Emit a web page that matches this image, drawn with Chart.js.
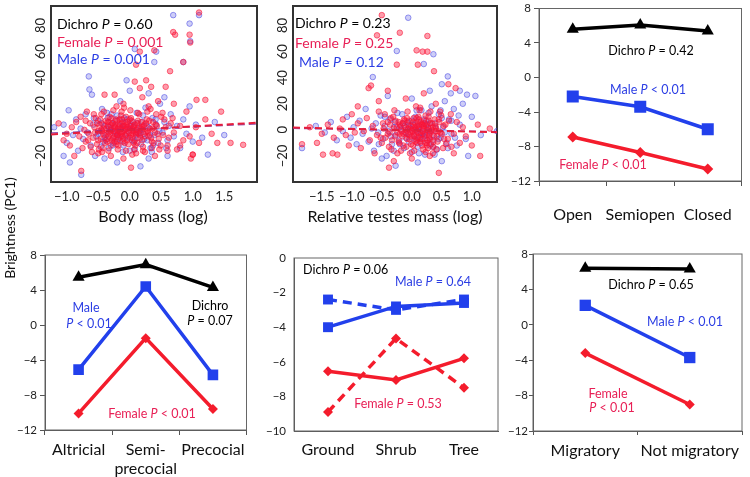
<!DOCTYPE html>
<html>
<head>
<meta charset="utf-8">
<script src="https://cdn.jsdelivr.net/npm/chart.js@4.4.1/dist/chart.umd.min.js"></script>
<style>
body { margin: 0; background: #fff; }
#wrap { position: relative; width: 750px; height: 477px; overflow: hidden; }
#wrap canvas { position: absolute; left: 0; top: 0; }
#ytitle { position: absolute; left: -90.5px; top: 219px; width: 200px; height: 18px; line-height: 18px;
  text-align: center; font: 14px Lato, sans-serif; color: #111; transform: rotate(-90deg); }
</style>
</head>
<body>
<div id="wrap">
  <canvas id="c1" width="750" height="477"></canvas>
  <canvas id="c2" width="750" height="477"></canvas>
  <canvas id="c3" width="750" height="477"></canvas>
  <canvas id="c4" width="750" height="477"></canvas>
  <canvas id="c5" width="750" height="477"></canvas>
  <canvas id="c6" width="750" height="477"></canvas>
  <div id="ytitle">Brightness (PC1)</div>
</div>
<script>
// ---- data ----
// body mass (log) vs brightness
const bodyFemale = [[-1.13,5],[-1.05,-8],[-1.0,-3],[-0.95,-12],[-0.92,2],[-0.88,-20],[-0.85,6],[-0.8,-5],[-0.78,10],[-0.75,-14],[-0.72,0],[-0.7,-9],[-0.68,14],[-0.65,-3],[-0.63,5],[-0.6,-17],[-0.58,-6],[-0.56,2],[-0.54,9],[-0.52,-11],[-0.5,-1],[-0.48,4],[-0.46,-7],[-0.45,12],[-0.43,-14],[-0.41,1],[-0.4,-4],[-0.38,7],[-0.36,-9],[-0.35,3],[-0.33,-2],[-0.32,10],[-0.3,-12],[-0.29,0],[-0.27,5],[-0.26,-6],[-0.24,2],[-0.23,-3],[-0.22,8],[-0.2,-9],[-0.19,1],[-0.18,-1],[-0.16,4],[-0.15,-5],[-0.14,11],[-0.12,-2],[-0.11,3],[-0.1,-7],[-0.08,0],[-0.07,6],[-0.05,-3],[-0.04,2],[-0.02,-11],[0.0,1],[0.02,-4],[0.03,7],[0.05,-1],[0.07,3],[0.08,-8],[0.1,0],[0.12,5],[0.14,-3],[0.15,12],[0.17,-6],[0.19,2],[0.21,-13],[0.23,4],[0.25,-2],[0.27,8],[0.3,-5],[0.32,1],[0.35,-9],[0.37,6],[0.4,-2],[0.43,3],[0.46,-7],[0.5,10],[0.53,-4],[0.57,2],[0.6,-12],[0.65,5],[0.7,-2],[0.75,-15],[0.8,3],[0.85,-8],[0.9,14],[0.95,-5],[1.0,-19],[1.05,2],[1.1,-10],[1.2,8],[1.3,-3],[1.39,-10],[1.6,-10],[1.8,-11.5],[1.45,14],
  [1.1,90],[0.69,75],[0.72,73],[0.95,73],[0.96,67],[0.39,61],[0.85,52],[0.64,45],[0.16,60],[0.1,50],[0.08,37],[0.26,38],[0.34,33],[0.16,32],[-0.24,27],[-0.4,27],[0.57,33],[1.2,23],[1.06,23],[-0.77,-31.5],[0.02,-29],[1.0,-19],[0.97,-22],[0.2,25],[0.45,22],[-0.1,20],[0.3,18],[0.7,20],[-0.3,-20],[-0.1,-22],[0.1,-18],[0.4,-20],[0.6,-16],[-0.5,-18],[0.8,-12],
  [-0.3,-1],[-0.25,3],[-0.2,-4],[-0.15,1],[-0.1,-1],[-0.05,4],[0.0,-6],[0.05,2],[-0.35,6],[-0.42,-3],[0.1,-3],[0.2,0],[-0.28,-8],[-0.12,8],[0.18,6],[-0.45,0],[0.28,-1],[0.06,-10],[-0.18,-12],[-0.06,10],
  [-0.55,-2],[-0.52,5],[-0.5,-8],[-0.47,8],[-0.44,-1],[-0.42,4],[-0.39,-10],[-0.37,1],[-0.34,-5],[-0.33,6],[-0.31,-3],[-0.29,9],[-0.27,-7],[-0.25,-1],[-0.23,4],[-0.21,-11],[-0.2,7],[-0.18,2],[-0.17,-6],[-0.15,-2],[-0.13,5],[-0.11,-9],[-0.09,3],[-0.07,-4],[-0.06,1],[-0.04,-8],[-0.03,6],[-0.01,-2],[0.01,3],[0.02,9],[0.04,-6],[0.06,0],[0.08,4],[0.09,-12],[0.11,-2],[0.13,7],[0.16,-4],[0.18,1],[0.2,-8],[0.22,3],[0.24,-5],[0.26,5],[0.29,-2],[0.31,7],[0.34,-6],[0.36,1],[0.38,-10],[0.41,4],[0.44,-3],[-0.36,-7],[-0.24,-9],[-0.12,-5],[0.0,8],[0.12,-10],[-0.3,4],[-0.08,-10],[0.14,2],[-0.2,-4],[0.05,-3],[-0.16,8],
  [-0.62,-13],[-0.57,12],[-0.49,-15],[-0.41,14],[-0.34,-16],[-0.26,15],[-0.19,-15],[-0.13,14],[-0.06,-16],[0.01,15],[0.07,-15],[0.13,13],[0.21,-16],[0.28,14],[0.35,-14],[0.42,12],[0.49,-12],[0.55,8],[-0.7,7],[-0.66,-8],[0.47,-15],[0.52,13],[-0.44,-17],[0.33,16],[-0.21,18],[0.04,-19],[0.24,-17],[-0.09,17],[0.62,-6],[0.68,9]];
const bodyMale = [[-1.2,2],[-1.05,4],[-1.0,-10],[-0.97,15],[-0.9,-4],[-0.85,8],[-0.82,-16],[-0.78,1],[-0.74,-7],[-0.7,12],[-0.67,-2],[-0.64,31],[-0.6,27],[-0.62,-12],[-0.58,4],[-0.55,-20],[-0.53,-5],[-0.5,7],[-0.47,-1],[-0.44,16],[-0.42,-9],[-0.4,3],[-0.37,-4],[-0.35,9],[-0.33,-14],[-0.31,0],[-0.28,5],[-0.26,-10],[-0.24,2],[-0.22,-2],[-0.2,11],[-0.18,-7],[-0.16,3],[-0.14,-3],[-0.12,6],[-0.1,-12],[-0.08,1],[-0.06,-5],[-0.04,8],[-0.02,-1],[0.0,-16],[0.02,4],[0.04,-8],[0.06,2],[0.09,-2],[0.11,13],[0.13,-6],[0.16,1],[0.18,-11],[0.2,6],[0.22,-3],[0.25,17],[0.28,-8],[0.3,2],[0.33,-14],[0.36,9],[0.39,-4],[0.42,4],[0.45,-10],[0.48,20],[0.52,-2],[0.55,6],[0.6,-8],[0.65,12],[0.7,-5],[0.75,3],[0.8,-14],[0.85,8],[0.9,-3],[0.95,18],[1.0,-9],[1.05,4],[1.15,-6],[1.24,-19],[1.35,6],[1.5,-4],
  [1.1,88],[0.69,88],[0.95,81.5],[0.96,68],[0.42,60],[0.39,52],[0.85,52],[0.08,62],[-0.65,41],[-0.05,38],[-0.77,-34.5],[0.17,-28],[-0.2,-25],[0.3,-22],[-0.4,-22],[0.6,-20],[0.0,30],[0.3,28],[-0.15,22],[0.55,25],[-1.05,-20],[-0.95,-25],
  [-0.3,1],[-0.2,-1],[-0.1,3],[0.0,0],[0.1,-4],[-0.25,-5],[0.05,6],[-0.4,-6],[0.15,-1],[-0.15,-8],
  [-0.5,-3],[-0.45,5],[-0.38,-8],[-0.33,2],[-0.27,-12],[-0.23,7],[-0.19,-4],[-0.13,1],[-0.09,9],[-0.03,-6],[0.01,3],[0.07,-9],[0.12,5],[0.17,-2],[0.23,-7],[0.27,3],[0.32,-4],[0.37,-12],[0.41,8],[0.47,-1],[-0.57,9],[-0.46,-13],[-0.29,12],[0.08,-15],[0.21,11],[-0.11,-17],[0.35,-17],[-0.36,13],[0.58,-14],[0.62,3]];
const bodyTrendFemale = [[-1.25,-3.5],[2.02,5.5]];
const bodyTrendMale = [[-1.25,-2.5],[2.02,4.5]];
const bodyTicks = [-1, -0.5, 0, 0.5, 1, 1.5];

// relative testes mass (log) vs brightness
const testesFemale = [[-1.83,-11],[-1.58,-10],[-1.48,-19],[-1.32,-18],[-1.24,-19],[-1.7,2],[-1.5,-3],[-1.4,4],[-1.3,-6],[-1.2,1],[-1.15,8],[-1.1,-4],[-1.05,-12],[-1.0,12],[-0.95,-2],[-0.9,5],[-0.85,-14],[-0.8,-1],[-0.75,9],[-0.7,-8],[-0.65,3],[-0.62,-18],[-0.58,-4],[-0.55,14],[-0.5,-10],[-0.47,1],[-0.44,-6],[-0.4,6],[-0.37,-2],[-0.34,-15],[-0.31,10],[-0.28,-5],[-0.25,2],[-0.22,-9],[-0.2,4],[-0.17,-1],[-0.14,-12],[-0.12,7],[-0.09,-3],[-0.06,1],[-0.04,-7],[-0.01,3],[0.01,-1],[0.03,9],[0.05,-5],[0.07,0],[0.09,-10],[0.11,4],[0.13,-2],[0.15,6],[0.17,-7],[0.19,1],[0.21,-3],[0.23,11],[0.25,-12],[0.27,2],[0.29,-4],[0.31,5],[0.33,-1],[0.36,-9],[0.39,3],[0.42,-5],[0.45,8],[0.48,-2],[0.52,-14],[0.56,4],[0.6,-7],[0.65,12],[0.7,-3],[0.75,6],[0.8,-10],[0.85,2],[0.9,-5],[1.0,-12],[1.1,4],[1.14,-20],[1.3,1],
  [-0.5,88],[-0.58,72.5],[-0.2,74.5],[0.26,72],[0.08,61],[0.18,60],[0.26,60],[-0.25,50],[0.1,50],[0.37,45],[-0.72,32],[-0.68,34],[-0.4,30],[0.61,35],[0.73,32],[0.45,-33],[-0.38,-29],[0.2,28],[-0.1,24],[0.4,20],[-0.55,22],[0.0,-22],[0.3,-20],[-0.3,-24],[0.7,-18],[-0.9,18],
  [0.0,0],[0.1,-2],[0.2,3],[-0.1,2],[0.05,5],[0.15,-4],[0.25,0],[-0.05,-4],[0.3,-7],[0.12,8],[-0.15,5],[0.35,2],[0.08,-8],[0.22,-10],[-0.2,-3],[0.4,-1],[0.18,4],[0.02,-12],[-0.08,9],[0.28,7],
  [-0.4,-3],[-0.36,4],[-0.33,-8],[-0.3,1],[-0.27,7],[-0.24,-2],[-0.21,-10],[-0.19,3],[-0.16,-5],[-0.13,8],[-0.11,0],[-0.08,-7],[-0.06,4],[-0.03,-2],[-0.01,-11],[0.02,6],[0.04,-4],[0.06,2],[0.08,9],[0.1,-6],[0.12,1],[0.14,-9],[0.16,4],[0.18,-1],[0.2,7],[0.22,-4],[0.24,3],[0.26,-8],[0.28,10],[0.3,-2],[0.32,-11],[0.34,5],[0.37,-5],[0.4,2],[0.43,-9],[0.46,6],[0.5,-3],[0.53,3],[0.0,-5],[0.06,-9],[0.17,-12],[0.11,10],[-0.05,7],[0.25,-10],[0.33,0],[0.21,5],[-0.14,-3],[0.09,3],[0.29,-6],[0.38,8],[-0.22,6],[0.15,-7],[0.03,1],[0.44,-1],[-0.09,-13],[0.27,-14],[0.19,-15],[0.36,-13],
  [-0.45,12],[-0.38,-13],[-0.29,15],[-0.18,-16],[-0.07,14],[0.04,-16],[0.13,15],[0.23,-17],[0.31,14],[0.41,-15],[0.49,11],[0.57,-11],[0.62,7],[-0.52,-6],[-0.48,5],[0.54,-7],[0.66,-13],[-0.35,9],[0.14,17],[-0.03,-18],[0.35,-18],[0.47,14],[-0.24,-18],[0.07,18]];
const testesMale = [[-1.83,-14],[-1.6,3],[-1.45,-2],[-1.35,6],[-1.25,-8],[-1.15,-1],[-1.08,10],[-1.02,-6],[-0.97,2],[-0.92,-11],[-0.87,7],[-0.82,-3],[-0.77,16],[-0.72,-9],[-0.67,1],[-0.63,-16],[-0.6,5],[-0.56,-2],[-0.52,11],[-0.48,-7],[-0.45,3],[-0.42,-20],[-0.39,-1],[-0.36,8],[-0.33,-11],[-0.3,2],[-0.27,-4],[-0.24,13],[-0.21,-8],[-0.18,0],[-0.15,5],[-0.13,-14],[-0.1,-2],[-0.07,6],[-0.05,-9],[-0.02,1],[0.0,-17],[0.02,4],[0.04,-5],[0.06,10],[0.08,-1],[0.1,-13],[0.12,3],[0.14,-6],[0.16,15],[0.18,-3],[0.2,2],[0.22,-19],[0.24,7],[0.26,-8],[0.28,1],[0.3,-12],[0.33,18],[0.36,-4],[0.39,5],[0.42,-15],[0.45,12],[0.48,-6],[0.52,2],[0.55,22],[0.58,-10],[0.62,8],[0.66,-3],[0.7,16],[0.75,-12],[0.8,4],[0.85,20],[0.9,-7],[0.94,-20],[1.0,10],[1.06,26],[1.15,-4],[1.42,-1],
  [-0.06,86],[-0.25,60.5],[0.36,58],[0.2,50.5],[0.6,41],[-0.65,40.5],[0.8,30],[0.92,27],[-0.27,-27.5],[0.1,-25],[-0.5,-22],[0.5,-24],[0.3,30],[-0.4,26],[0.0,24],[0.5,35],[0.65,28],
  [0.05,0],[0.15,-2],[-0.05,3],[0.25,4],[0.1,6],[-0.1,-6],[0.2,-5],[0.3,-1],[-0.2,2],[0.35,-8],
  [-0.35,-5],[-0.28,6],[-0.2,-11],[-0.12,3],[-0.06,-3],[0.0,7],[0.05,-7],[0.11,1],[0.15,-10],[0.2,8],[0.25,-4],[0.3,5],[0.35,-13],[0.4,1],[0.45,-7],[0.5,9],[0.55,-2],[-0.16,12],[0.12,-18],[0.28,13],[-0.3,-16],[0.6,-14],[0.66,7],[0.08,15],[-0.45,10],[0.38,-19],[0.48,15],[0.72,-6],[0.78,11],[-0.55,-11]];
const testesTrendFemale = [[-1.98,1.8],[1.42,-1.8]];
const testesTrendMale = [[-1.98,1.2],[1.42,-1.4]];
const testesTicks = [-1.5, -1, -0.5, 0, 0.5, 1];
const scatterYTicks = [-20, 0, 20, 40, 60, 80];

// habitat
const habitatCats = ['Open', 'Semiopen', 'Closed'];
const habitatDichro = [5.6, 6.1, 5.4];
const habitatMale = [-2.2, -3.4, -6.0];
const habitatFemale = [-6.9, -8.7, -10.6];

// development
const devCats = ['Altricial', ['Semi-', 'precocial'], 'Precocial'];
const devDichro = [5.45, 6.9, 4.3];
const devMale = [-5.1, 4.4, -5.7];
const devFemale = [-10.1, -1.5, -9.6];

// nest height (solid and dashed series)
const nestCats = ['Ground', 'Shrub', 'Tree'];
const nestMaleSolid = [-4.0, -2.8, -2.6];
const nestMaleDashed = [-2.4, -3.0, -2.4];
const nestFemaleSolid = [-6.55, -7.05, -5.8];
const nestFemaleDashed = [-8.9, -4.65, -7.5];

// migration
const migCats = ['Migratory', 'Not migratory'];
const migDichro = [6.4, 6.3];
const migMale = [2.2, -3.7];
const migFemale = [-3.2, -9.0];

// ---- styling ----
const RED = 'rgb(244,28,44)';
const BLUE = 'rgb(34,64,236)';
const BLACK = '#000';
const FEMALE_TXT = 'rgb(232,32,86)';
const MALE_TXT = 'rgb(44,62,228)';
const FONT = 'Lato, sans-serif';
Chart.defaults.font.family = FONT;
Chart.defaults.color = '#222';

const minus = v => (v < 0 ? '\u2212' + Math.abs(v) : String(v));
const minus1 = v => (v < 0 ? '\u2212' : '') + Math.abs(v).toFixed(1);

function drawRich(ctx, it) {
  const fonts = it.parts.map((p, i) => (i % 2 ? 'italic ' : '') + it.size + 'px ' + FONT);
  let w = 0;
  it.parts.forEach((p, i) => { ctx.font = fonts[i]; w += ctx.measureText(p).width; });
  let x = it.align === 'left' ? it.x : it.x - w / 2;
  ctx.fillStyle = it.color;
  ctx.textAlign = 'left';
  ctx.textBaseline = 'middle';
  it.parts.forEach((p, i) => {
    ctx.font = fonts[i];
    ctx.fillText(p, x, it.y);
    x += ctx.measureText(p).width;
  });
}

// box around the plot area + free text
function decor(notes, box) {
  return {
    id: 'decor',
    beforeDatasetsDraw(chart) {
      const a = chart.chartArea, ctx = chart.ctx;
      ctx.save();
      ctx.strokeStyle = box.color;
      ctx.lineWidth = box.width;
      ctx.strokeRect(a.left, a.top, a.right - a.left, a.bottom - a.top);
      ctx.restore();
    },
    afterDraw(chart) {
      const ctx = chart.ctx;
      ctx.save();
      notes.forEach(n => drawRich(ctx, n));
      ctx.restore();
    }
  };
}

// R-style vertical y tick labels
const rotTicks = {
  id: 'rotTicks',
  afterDraw(chart) {
    const s = chart.scales.y, ctx = chart.ctx;
    ctx.save();
    ctx.font = '13px ' + FONT;
    ctx.fillStyle = '#222';
    ctx.textAlign = 'center';
    ctx.textBaseline = 'middle';
    s.ticks.forEach(t => {
      ctx.save();
      ctx.translate(chart.chartArea.left - 10, s.getPixelForValue(t.value));
      ctx.rotate(-Math.PI / 2);
      ctx.fillText(minus(t.value), 0, 0);
      ctx.restore();
    });
    ctx.restore();
  }
};

// the x axis box runs to the bottom of the page so multi-line labels are not cut
function pad(area) {
  return { left: area.l - 40, top: area.t, right: 750 - area.r, bottom: 0 };
}
const fitY = s => { s.width = 40; s.paddingTop = 0; s.paddingBottom = 0; };
const fitXTo = b => s => { s.height = 477 - b; s.paddingLeft = 0; s.paddingRight = 0; };

function scatterChart(id, area, xr, xTicks, female, male, trendF, trendM, notes) {
  return new Chart(document.getElementById(id), {
    type: 'scatter',
    data: {
      datasets: [
        { type: 'line', data: trendF, borderColor: 'rgb(230,30,60)', borderWidth: 2, borderDash: [7, 4], pointRadius: 0 },
        { type: 'line', data: trendM, borderColor: 'rgba(120,40,150,0.8)', borderWidth: 1.5, borderDash: [7, 4], pointRadius: 0 },
        { data: female, pointRadius: 2.8, borderWidth: 1, backgroundColor: 'rgba(250,20,55,0.42)', borderColor: 'rgba(250,20,55,0.58)' },
        { data: male, pointRadius: 2.8, borderWidth: 1, backgroundColor: 'rgba(60,60,225,0.25)', borderColor: 'rgba(60,60,225,0.5)' }
      ]
    },
    options: {
      responsive: false, animation: false, events: [], devicePixelRatio: 1,
      layout: { padding: pad(area) },
      plugins: { legend: { display: false }, tooltip: { enabled: false } },
      scales: {
        x: {
          type: 'linear', min: xr[0], max: xr[1],
          afterBuildTicks: s => { s.ticks = xTicks.map(v => ({ value: v })); },
          afterFit: fitXTo(area.b),
          grid: { display: false, drawTicks: false },
          border: { display: false },
          ticks: { padding: 7, font: { size: 13 }, color: '#222', maxRotation: 0, callback: v => minus1(v) }
        },
        y: {
          min: -40, max: 95,
          afterBuildTicks: s => { s.ticks = scatterYTicks.map(v => ({ value: v })); },
          afterFit: fitY,
          grid: { display: false, drawTicks: false },
          border: { display: false },
          ticks: { display: false }
        }
      }
    },
    plugins: [decor(notes, { color: '#333', width: 2 }), rotTicks]
  });
}

function catChart(id, area, yr, labels, series, notes, ax) {
  return new Chart(document.getElementById(id), {
    type: 'line',
    data: {
      labels: labels,
      datasets: series.map(s => ({
        data: s.data, borderColor: s.color, backgroundColor: s.color, borderWidth: 3.5,
        borderDash: s.dash || [], pointStyle: s.style, pointRadius: s.r, pointBorderWidth: 0,
        pointBackgroundColor: s.color, tension: 0
      }))
    },
    options: {
      responsive: false, animation: false, events: [], devicePixelRatio: 1,
      layout: { padding: pad(area) },
      plugins: { legend: { display: false }, tooltip: { enabled: false } },
      scales: {
        x: {
          offset: true,
          afterFit: fitXTo(area.b),
          grid: { drawOnChartArea: false, drawTicks: ax.ticks > 0, tickLength: ax.ticks, offset: true, color: '#555' },
          border: { color: '#555', width: 1 },
          ticks: { padding: ax.xpad, font: { size: 16 }, color: '#111', minRotation: 0, maxRotation: 0, autoSkip: false }
        },
        y: {
          min: yr[0], max: yr[1],
          afterFit: fitY,
          grid: { drawOnChartArea: false, drawTicks: ax.ticks > 0, tickLength: ax.ticks, color: '#555' },
          border: { color: '#555', width: 1 },
          ticks: { stepSize: yr[2], padding: ax.ypad, font: { size: 11.5 }, color: '#222', callback: v => minus(v) }
        }
      }
    },
    plugins: [decor(notes, { color: '#666', width: 1 })]
  });
}

const T = (x, y, parts, color, size, align) => ({ x, y, parts, color, size, align: align || 'center' });

scatterChart('c1', { l: 51, r: 257, t: 6, b: 182 }, [-1.25, 2.02], bodyTicks,
  bodyFemale, bodyMale, bodyTrendFemale, bodyTrendMale, [
    T(57, 24, ['Dichro ', 'P', ' = 0.60'], BLACK, 14, 'left'),
    T(57, 42, ['Female ', 'P', ' = 0.001'], FEMALE_TXT, 14, 'left'),
    T(57, 59, ['Male ', 'P', ' = 0.001'], MALE_TXT, 14, 'left'),
    T(153, 217, ['Body mass (log)'], '#111', 16)
  ]);

scatterChart('c2', { l: 293, r: 497, t: 6, b: 182 }, [-1.98, 1.42], testesTicks,
  testesFemale, testesMale, testesTrendFemale, testesTrendMale, [
    T(295, 23, ['Dichro ', 'P', ' = 0.23'], BLACK, 14, 'left'),
    T(295, 43, ['Female ', 'P', ' = 0.25'], FEMALE_TXT, 14, 'left'),
    T(299, 62, ['Male ', 'P', ' = 0.12'], MALE_TXT, 14, 'left'),
    T(395, 217, ['Relative testes mass (log)'], '#111', 16)
  ]);

catChart('c3', { l: 539, r: 743.5, t: 4, b: 181 }, [-12, 8, 4], habitatCats, [
  { data: habitatDichro, color: BLACK, style: 'triangle', r: 7 },
  { data: habitatMale, color: BLUE, style: 'rect', r: 8.5 },
  { data: habitatFemale, color: RED, style: 'rectRot', r: 5.5 }
], [
  T(651, 51, ['Dichro ', 'P', ' = 0.42'], BLACK, 12.5),
  T(648, 90, ['Male ', 'P', ' < 0.01'], MALE_TXT, 12.5),
  T(603, 165, ['Female ', 'P', ' < 0.01'], FEMALE_TXT, 12.5)
], { ticks: 5, xpad: 19, ypad: 3 });

catChart('c4', { l: 45, r: 246.5, t: 255, b: 430 }, [-12, 8, 4], devCats, [
  { data: devDichro, color: BLACK, style: 'triangle', r: 7 },
  { data: devMale, color: BLUE, style: 'rect', r: 7.5 },
  { data: devFemale, color: RED, style: 'rectRot', r: 5 }
], [
  T(86, 308, ['Male'], MALE_TXT, 12.5),
  T(89, 324, ['', 'P', ' < 0.01'], MALE_TXT, 12.5),
  T(210, 306, ['Dichro'], BLACK, 12.5),
  T(210, 321, ['', 'P', ' = 0.07'], BLACK, 12.5),
  T(152, 414, ['Female ', 'P', ' < 0.01'], FEMALE_TXT, 12.5)
], { ticks: 5, xpad: 5, ypad: 3 });

catChart('c5', { l: 294, r: 498, t: 258, b: 431 }, [-10, 0, 2], nestCats, [
  { data: nestMaleSolid, color: BLUE, style: 'rect', r: 7 },
  { data: nestMaleDashed, color: BLUE, style: 'rect', r: 7, dash: [9, 6] },
  { data: nestFemaleSolid, color: RED, style: 'rectRot', r: 5 },
  { data: nestFemaleDashed, color: RED, style: 'rectRot', r: 5, dash: [9, 6] }
], [
  T(303, 270, ['Dichro ', 'P', ' = 0.06'], BLACK, 12.5, 'left'),
  T(433, 282, ['Male ', 'P', ' = 0.64'], MALE_TXT, 12.5),
  T(398, 404, ['Female ', 'P', ' = 0.53'], FEMALE_TXT, 12.5)
], { ticks: 0, xpad: 9, ypad: 8 });

catChart('c6', { l: 533, r: 742, t: 254, b: 431 }, [-12, 8, 4], migCats, [
  { data: migDichro, color: BLACK, style: 'triangle', r: 7 },
  { data: migMale, color: BLUE, style: 'rect', r: 8 },
  { data: migFemale, color: RED, style: 'rectRot', r: 5 }
], [
  T(651, 285, ['Dichro ', 'P', ' = 0.65'], BLACK, 12.5),
  T(685, 322, ['Male ', 'P', ' < 0.01'], MALE_TXT, 12.5),
  T(608, 394, ['Female'], FEMALE_TXT, 12.5),
  T(612, 408, ['', 'P', ' < 0.01'], FEMALE_TXT, 12.5)
], { ticks: 4, xpad: 6, ypad: 1 });
</script>
</body>
</html>
